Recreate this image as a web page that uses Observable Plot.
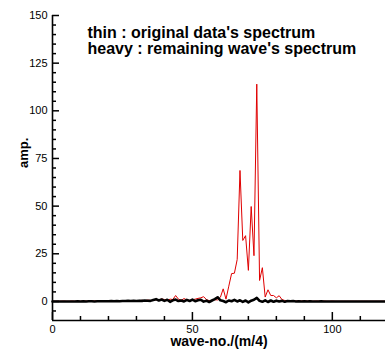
<!DOCTYPE html>
<html>
<head>
<meta charset="utf-8">
<script src="https://cdn.jsdelivr.net/npm/d3@7"></script>
<script src="https://cdn.jsdelivr.net/npm/@observablehq/plot@0.6"></script>
<style>
  html, body { margin: 0; padding: 0; background: #fff; }
  #chart svg { display: block; }
</style>
</head>
<body>
<div id="chart"></div>
<script>
// ---- data ----
const originalSpectrum = [
  0.1,0.1,0.1,0.1,0.2,0.1,0.1,0.2,0.1,0.2, 0.1,0.2,0.2,0.1,0.2,0.3,0.2,0.1,0.2,0.3,
  0.2,0.3,0.2,0.3,0.4,0.3,0.2,0.4,0.3,0.5, 0.4,0.3,0.6,0.4,0.7,
  0.5,0.6,0.9,0.7,1.3, 1.0,0.4,1.2,1.0,3.1, 1.2,0.6,1.5,0.8,0.5, 0.9,1.2,1.6,1.9,2.5,
  1.0,0.4,0.6,0.9,0.8, 2.2,
  6.6,1.2,8.0,14.6,14.8,22,68.7,32,34.5,16.3,49.8,24,114,11,17.7,2.3,6.1,3.1,3.1,1.9,3.0,1.0,0.5,0.3,
  0.4,0.3,0.2,0.3,0.2, 0.3,0.2,0.2,0.1,0.2, 0.2,0.1,0.2,0.1,0.1, 0.2,0.1,0.1,0.1,0.1,
  0.1,0.1,0.1,0.1,0.1, 0.1,0.1,0.1,0.1,0.1, 0.1,0.1,0.1,0.1,0.1
];
const remainingSpectrum = [
  0,0,0,0,0,0,0,0,0,0.1, 0,0.1,0,0.1,0.1,0,0.1,0.1,0.1,0.1, 0.1,0.2,0.1,0.2,0.1,0.2,
  0.2,0.3,0.2,0.3,0.2,0.4,0.3,0.5,0.4,
  0.3,0.8,1.2,0.5,1.0, 0.3,0.9,-0.2,0.6,1.0, 0.2,0.5,0.0,0.8,0.2, 1.0,0.1,0.6,0.9,-0.1,
  0.4,-0.3,0.5,1.2,2.2, 0.6,0.2,-0.4,0.5,0.1, 0.8,0.0,0.6,-0.2,0.5, -0.5,0.4,0.9,1.9,0.3,
  -0.2,0.6,-0.3,0.5,-0.2, 0.4,0.0,0.3,-0.2,0.2,
  0.1,0.2,0.0,0.1,0.0, 0.1,0.0,0.1,0.0,0.0, 0.0,0.1,0.0,0.0,0.0, 0,0,0,0,0,
  0,0,0,0,0, 0,0,0,0,0, 0,0,0,0,0
];
const xDomain = [0, 119];
const yDomain = [-10, 150];
const xMajorTicks = [0, 50, 100];
const xMinorTicks = [10, 20, 30, 40, 60, 70, 80, 90, 110];
const yMajorTicks = [0, 25, 50, 75, 100, 125, 150];
const yMinorTicks = [-5, 5, 10, 15, 20, 30, 35, 40, 45, 55, 60, 65, 70, 80, 85, 90, 95, 105, 110, 115, 120, 130, 135, 140, 145];
const legendLines = ["thin : original data's spectrum", "heavy : remaining wave's spectrum"];
const xLabel = "wave-no./(m/4)";
const yLabel = "amp.";

const orig = originalSpectrum.map((v, i) => ({x: i, y: v}));
const rem = remainingSpectrum.map((v, i) => ({x: i, y: v}));

// layout (pixels)
const W = 385, H = 353, mL = 52, mR = 0, mT = 15, mB = 33;
const frameW = W - mL - mR, frameH = H - mT - mB;

// inward tick marks as short rules (frame-spanning rules inset to a few pixels)
const yTicks = (ticks, len) => Plot.ruleY(ticks, {y: d => d, insetRight: frameW - len, stroke: "black", strokeWidth: 1.5});
const xTicks = (ticks, len) => Plot.ruleX(ticks, {x: d => d, insetTop: frameH - len, stroke: "black", strokeWidth: 1.5});

const chart = Plot.plot({
  width: W,
  height: H,
  marginLeft: mL,
  marginRight: mR,
  marginTop: mT,
  marginBottom: mB,
  style: {fontFamily: "'Liberation Sans', Arial, sans-serif", background: "#fff"},
  x: {domain: xDomain, axis: null},
  y: {domain: yDomain, axis: null},
  marks: [
    Plot.lineY(orig, {x: "x", y: "y", stroke: "#e00000", strokeWidth: 1}),
    Plot.lineY(rem, {x: "x", y: "y", stroke: "#000", strokeWidth: 2.6}),
    // tick labels
    Plot.axisY({ticks: yMajorTicks, anchor: "left", tickSize: 0, tickPadding: 5, fontSize: 11, label: null}),
    Plot.axisX({ticks: xMajorTicks, anchor: "bottom", tickSize: 0, tickPadding: 5, fontSize: 11, label: null}),
    // labels
    Plot.text([xLabel], {frameAnchor: "bottom", text: d => d, dy: 25, lineAnchor: "bottom", fontSize: 14, fontWeight: "bold"}),
    Plot.text([yLabel], {frameAnchor: "left", text: d => d, dx: -25, rotate: -90, lineAnchor: "bottom", fontSize: 13, fontWeight: "bold"}),
    Plot.text([legendLines.join("\n")], {frameAnchor: "top-left", text: d => d, dx: 35, dy: 11, textAnchor: "start", lineAnchor: "top", lineHeight: 1.0, fontSize: 16, fontWeight: "bold"}),
    // axis lines
    Plot.ruleX([xDomain[0]], {stroke: "black", strokeWidth: 1.6}),
    Plot.ruleY([yDomain[0]], {stroke: "black", strokeWidth: 1.6}),
    // inward ticks (drawn last)
    yTicks(yMajorTicks, 7),
    yTicks(yMinorTicks, 4),
    xTicks(xMajorTicks, 8),
    xTicks(xMinorTicks, 4)
  ]
});
document.getElementById("chart").appendChild(chart);
</script>
</body>
</html>
